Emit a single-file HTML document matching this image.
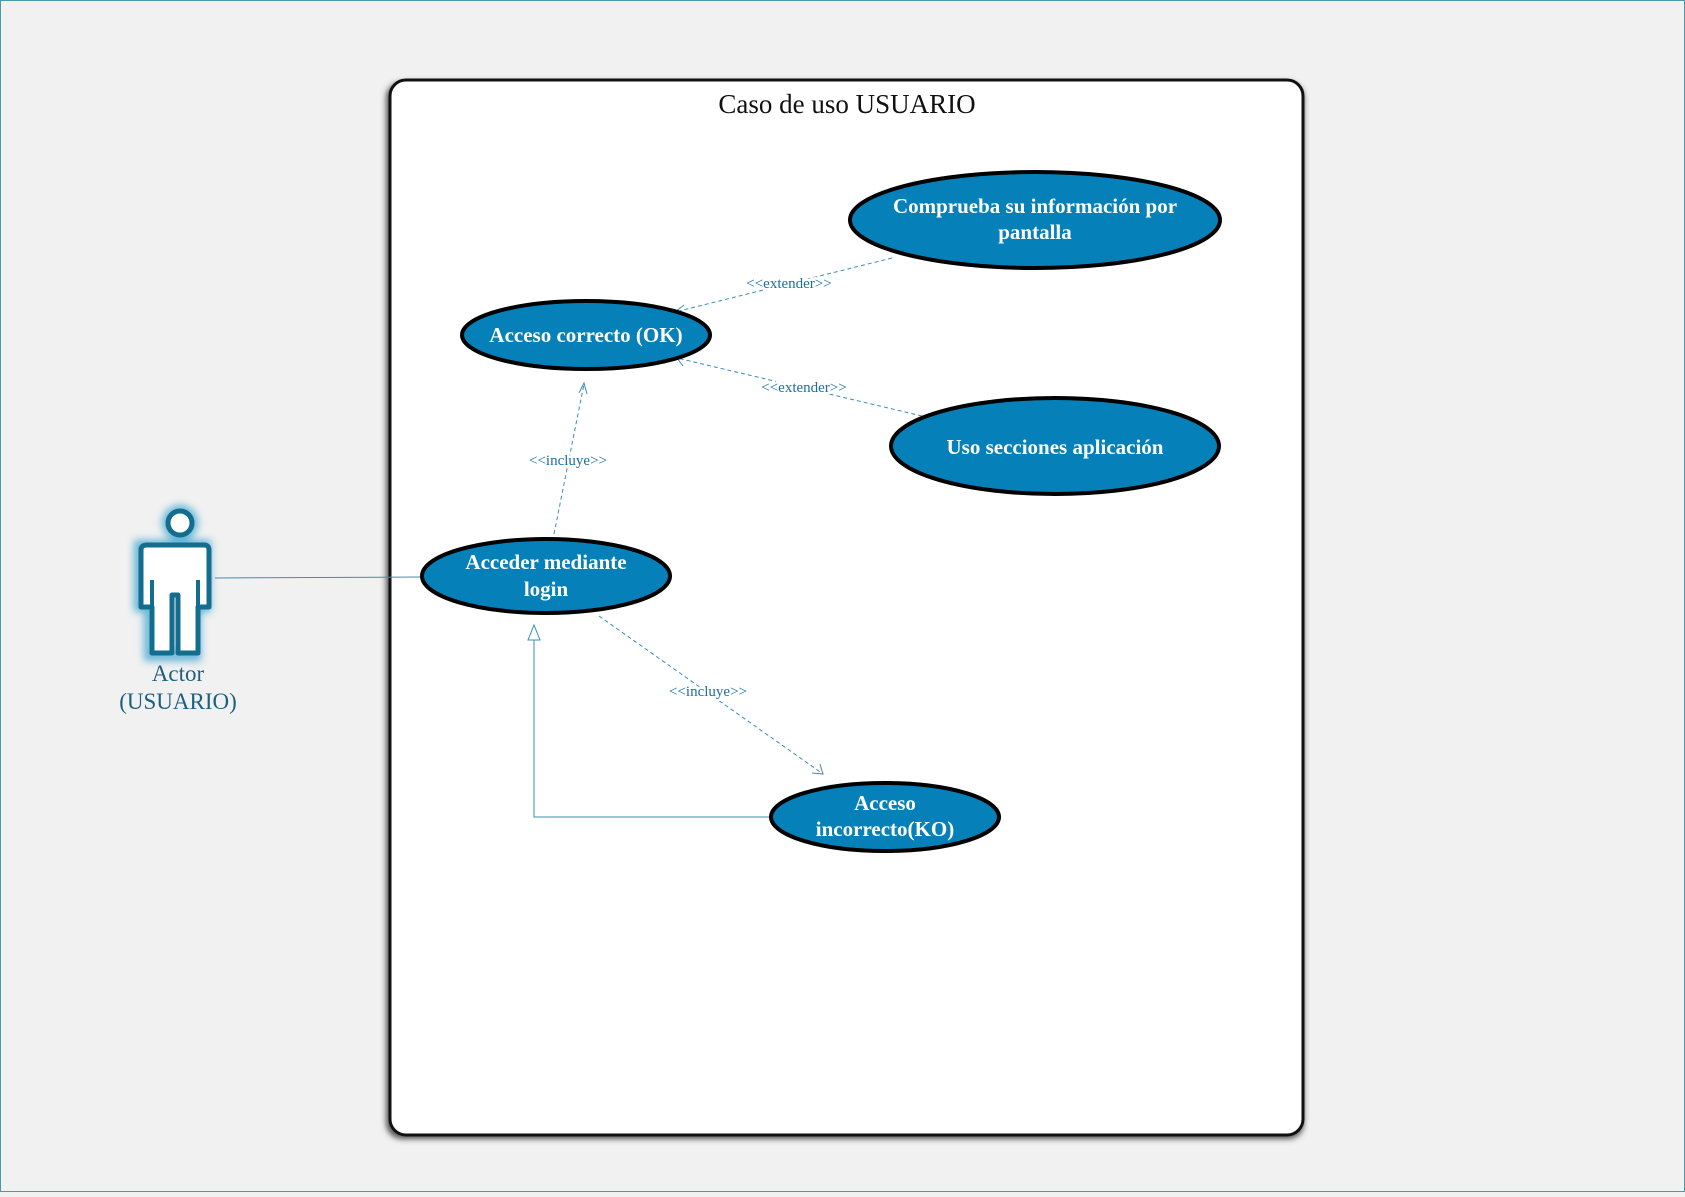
<!DOCTYPE html>
<html><head><meta charset="utf-8"><style>
html,body{margin:0;padding:0;}
body{width:1685px;height:1192px;background:#f1f1f1;overflow:hidden;}
</style></head><body>
<svg width="1685" height="1192" viewBox="0 0 1685 1192" xmlns="http://www.w3.org/2000/svg" font-family="Liberation Serif, serif">
<defs>
<filter id="sh" x="-5%" y="-5%" width="110%" height="110%"><feGaussianBlur stdDeviation="3"/></filter>
<filter id="glow" x="-30%" y="-30%" width="160%" height="160%"><feGaussianBlur stdDeviation="4"/></filter>
</defs>
<rect x="0.5" y="0.5" width="1684" height="1191" fill="#f1f1f1" stroke="#4a9aaa" stroke-width="1"/>
<rect x="386" y="82" width="918" height="1057" rx="16" fill="#555" filter="url(#sh)"/>
<rect x="390" y="80" width="913" height="1055" rx="16" fill="#fff" stroke="#111" stroke-width="3"/>
<text x="847" y="113" font-size="27" text-anchor="middle" fill="#111">Caso de uso USUARIO</text>

<g stroke="#3a8fb5" stroke-width="1" fill="none">
<line x1="215" y1="578" x2="421" y2="577"/>
<g stroke-dasharray="4,3">
<line x1="554" y1="534" x2="584" y2="384"/>
<line x1="892" y1="258" x2="675" y2="312"/>
<line x1="922" y1="416" x2="677" y2="358"/>
<line x1="599" y1="616" x2="823" y2="774"/>
</g>
<polyline points="579,393 584,383 587,394"/>
<polyline points="684,305 675,312 685,314"/>
<polyline points="684,355 677,358 683,366"/>
<polyline points="812,773 823,774 820,764"/>
<polyline points="770,817 534,817 534,638"/>
<polygon points="528,640 534,625 540,640" fill="#fff"/>
</g>
<g font-size="15" fill="#1a6fa0" text-anchor="middle" stroke="#fff" stroke-width="5" paint-order="stroke" stroke-linejoin="round">
<text x="568" y="465">&lt;&lt;incluye&gt;&gt;</text>
<text x="789" y="288">&lt;&lt;extender&gt;&gt;</text>
<text x="804" y="392">&lt;&lt;extender&gt;&gt;</text>
<text x="708" y="696">&lt;&lt;incluye&gt;&gt;</text>
</g>

<g fill="#0580b8" stroke="#000" stroke-width="4">
<ellipse cx="1035" cy="220" rx="185" ry="48"/>
<ellipse cx="586" cy="335" rx="124" ry="34"/>
<ellipse cx="1055" cy="446" rx="164" ry="48"/>
<ellipse cx="546" cy="576" rx="124" ry="37"/>
<ellipse cx="885" cy="817" rx="114" ry="34"/>
</g>
<g fill="#fff" font-size="21" font-weight="bold" text-anchor="middle">
<text x="1035" y="213">Comprueba su información por</text>
<text x="1035" y="239">pantalla</text>
<text x="586" y="342">Acceso correcto (OK)</text>
<text x="1055" y="454">Uso secciones aplicación</text>
<text x="546" y="569">Acceder mediante</text>
<text x="546" y="596">login</text>
<text x="885" y="810">Acceso</text>
<text x="885" y="836">incorrecto(KO)</text>
</g>

<g>
<g filter="url(#glow)" stroke="#3fa6d0" stroke-width="10" fill="none" opacity="0.8">
<circle cx="180" cy="523" r="13"/>
<path d="M143,545 H206 V607 H196 V656 H149 V607 H139 V545 Z"/>
</g>
<circle cx="180" cy="523" r="12" fill="#fff" stroke="#136d8f" stroke-width="5"/>
<path d="M147,545 H204 Q209,545 209,550 V607 H198 V653 H178 V595 H172 V653 H152 V607 H141 V550 Q141,545 147,545 Z" fill="#fff" stroke="#136d8f" stroke-width="5" stroke-linejoin="round"/>
<line x1="152" y1="580" x2="152" y2="607" stroke="#136d8f" stroke-width="4"/>
<line x1="198" y1="580" x2="198" y2="607" stroke="#136d8f" stroke-width="4"/>
<text x="178" y="681" font-size="23" fill="#1d5f7d" text-anchor="middle">Actor</text>
<text x="178" y="709" font-size="23" fill="#1d5f7d" text-anchor="middle">(USUARIO)</text>
</g>
</svg>
</body></html>
